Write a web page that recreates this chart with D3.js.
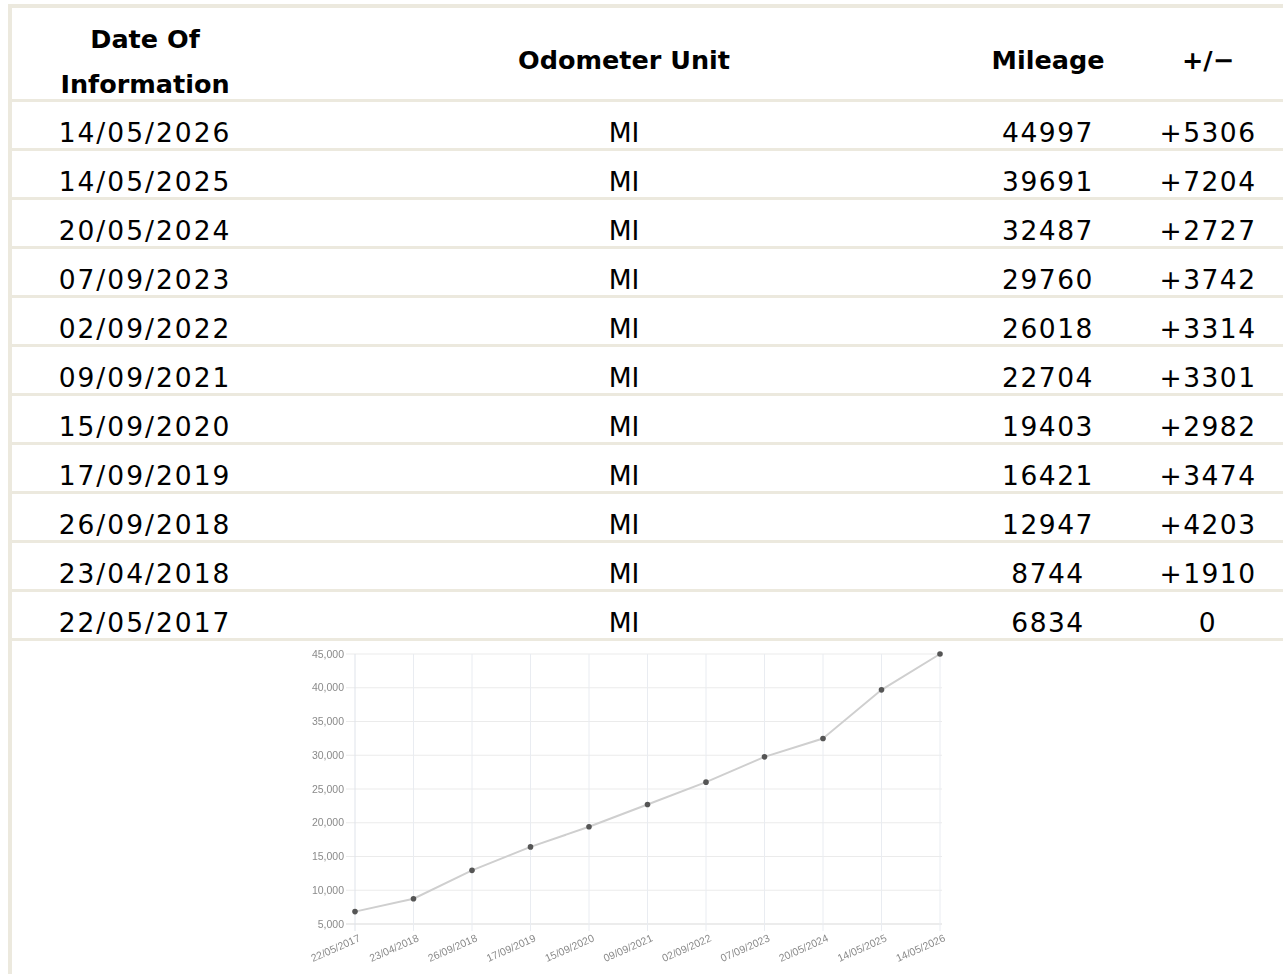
<!DOCTYPE html>
<html>
<head>
<meta charset="utf-8">
<script src="https://cdn.jsdelivr.net/npm/d3@7/dist/d3.min.js"></script>
<style>
  html, body { margin: 0; padding: 0; background: #fff; }
  svg { display: block; }
</style>
</head>
<body>
<svg id="chart" width="1283" height="974"></svg>
<script>
// table rows, newest first (as shown in the table)
const dates = ["14/05/2026", "14/05/2025", "20/05/2024", "07/09/2023", "02/09/2022",
  "09/09/2021", "15/09/2020", "17/09/2019", "26/09/2018", "23/04/2018", "22/05/2017"]
const units = ["MI", "MI", "MI", "MI", "MI", "MI", "MI", "MI", "MI", "MI", "MI"]
const mileage = [44997, 39691, 32487, 29760, 26018, 22704, 19403, 16421, 12947, 8744, 6834]
const change = [5306, 7204, 2727, 3742, 3314, 3301, 2982, 3474, 4203, 1910, 0]

const headers = [["Date Of", "Information"], ["Odometer Unit"], ["Mileage"], ["+/\u2212"]]
const yTicks = [5000, 10000, 15000, 20000, 25000, 30000, 35000, 40000, 45000]

const border = "#ece9de"
const svg = d3.select("#chart")

// ---- table ----
const colX = d3.scaleOrdinal().domain([0, 1, 2, 3]).range([145, 624, 1048, 1208])
const rowY = d3.scaleBand().domain(d3.range(dates.length)).range([102, 641]).paddingInner(0)

// outer frame: top and left edges
svg.append("rect").attr("x", 8).attr("y", 4).attr("width", 1275).attr("height", 4).attr("fill", border)
svg.append("rect").attr("x", 8).attr("y", 4).attr("width", 4).attr("height", 970).attr("fill", border)

// row separators
svg.selectAll(".sep")
  .data(d3.range(dates.length + 1))
  .join("rect")
  .attr("class", "sep")
  .attr("x", 12)
  .attr("y", i => i < dates.length ? rowY(i) - 3 : rowY(i - 1) + rowY.bandwidth() - 3)
  .attr("width", 1271)
  .attr("height", 3)
  .attr("fill", border)

// header
const head = svg.append("g")
  .attr("font-family", "DejaVu Sans, Verdana, sans-serif")
  .attr("font-weight", "bold")
  .attr("font-size", 25.5)
  .attr("fill", "#000")
  .attr("text-anchor", "middle")
headers.forEach((lines, c) => {
  const t = head.append("text").attr("x", colX(c))
  if (lines.length === 2) {
    t.append("tspan").attr("x", colX(c)).attr("y", 48).text(lines[0])
    t.append("tspan").attr("x", colX(c)).attr("y", 93).text(lines[1])
  } else {
    t.attr("y", 69).text(lines[0])
  }
})

// body cells
const rows = dates.map((d, i) => [d, units[i], String(mileage[i]), change[i] > 0 ? "+" + change[i] : String(change[i])])
const body = svg.append("g")
  .attr("font-family", "DejaVu Sans, Verdana, sans-serif")
  .attr("font-size", 26.5)
  .attr("fill", "#000")
  .attr("text-anchor", "middle")

body.selectAll("g")
  .data(rows)
  .join("g")
  .attr("transform", (r, i) => `translate(0, ${rowY(i) + 40})`)
  .selectAll("text")
  .data(r => r)
  .join("text")
  .attr("x", (v, c) => colX(c))
  .style("letter-spacing", (v, c) => c === 0 ? "2px" : c === 1 ? "0px" : "1.5px")
  .text(v => v)

// ---- line chart ----
const chrono = dates.slice().reverse()
const chronoMiles = mileage.slice().reverse()

const x = d3.scalePoint().domain(chrono).range([355, 940])
const y = d3.scaleLinear().domain([5000, 45000]).range([924, 654])

const defs = svg.append("defs")
defs.append("filter").attr("id", "soft")
  .attr("x", "-10%").attr("y", "-10%").attr("width", "120%").attr("height", "120%")
  .append("feGaussianBlur").attr("stdDeviation", 0.6)

const plot = svg.append("g").attr("filter", "url(#soft)")

// grid
plot.append("g")
  .selectAll("line")
  .data(yTicks)
  .join("line")
  .attr("x1", 346).attr("x2", 942)
  .attr("y1", d => y(d)).attr("y2", d => y(d))
  .attr("stroke", d => d === 5000 ? "#d9d9d9" : "#ebebeb")
  .attr("stroke-width", 1)

plot.append("g")
  .selectAll("line")
  .data(chrono)
  .join("line")
  .attr("x1", d => x(d)).attr("x2", d => x(d))
  .attr("y1", 654).attr("y2", 931)
  .attr("stroke", (d, i) => i === 0 ? "#dfe3ea" : "#e9ecf1")
  .attr("stroke-width", 1)

// y labels
plot.append("g")
  .attr("font-family", "Liberation Sans, Arial, sans-serif")
  .attr("font-size", 10.5)
  .attr("fill", "#8a8a8a")
  .attr("text-anchor", "end")
  .selectAll("text")
  .data(yTicks)
  .join("text")
  .attr("x", 344)
  .attr("y", d => y(d) + 3.5)
  .text(d3.format(","))

// x labels
plot.append("g")
  .attr("font-family", "Liberation Sans, Arial, sans-serif")
  .attr("font-size", 10.5)
  .attr("fill", "#8a8a8a")
  .attr("text-anchor", "end")
  .selectAll("text")
  .data(chrono)
  .join("text")
  .attr("transform", d => `translate(${x(d) + 3}, 934) rotate(-24)`)
  .attr("dy", "0.7em")
  .text(d => d)

// line and points
const pts = chrono.map((d, i) => ({ date: d, miles: chronoMiles[i] }))
plot.append("path")
  .datum(pts)
  .attr("fill", "none")
  .attr("stroke", "#cfcfcf")
  .attr("stroke-width", 2)
  .attr("d", d3.line().x(p => x(p.date)).y(p => y(p.miles)))

plot.append("g")
  .selectAll("circle")
  .data(pts)
  .join("circle")
  .attr("cx", p => x(p.date))
  .attr("cy", p => y(p.miles))
  .attr("r", 2.8)
  .attr("fill", "#555")
</script>
</body>
</html>
